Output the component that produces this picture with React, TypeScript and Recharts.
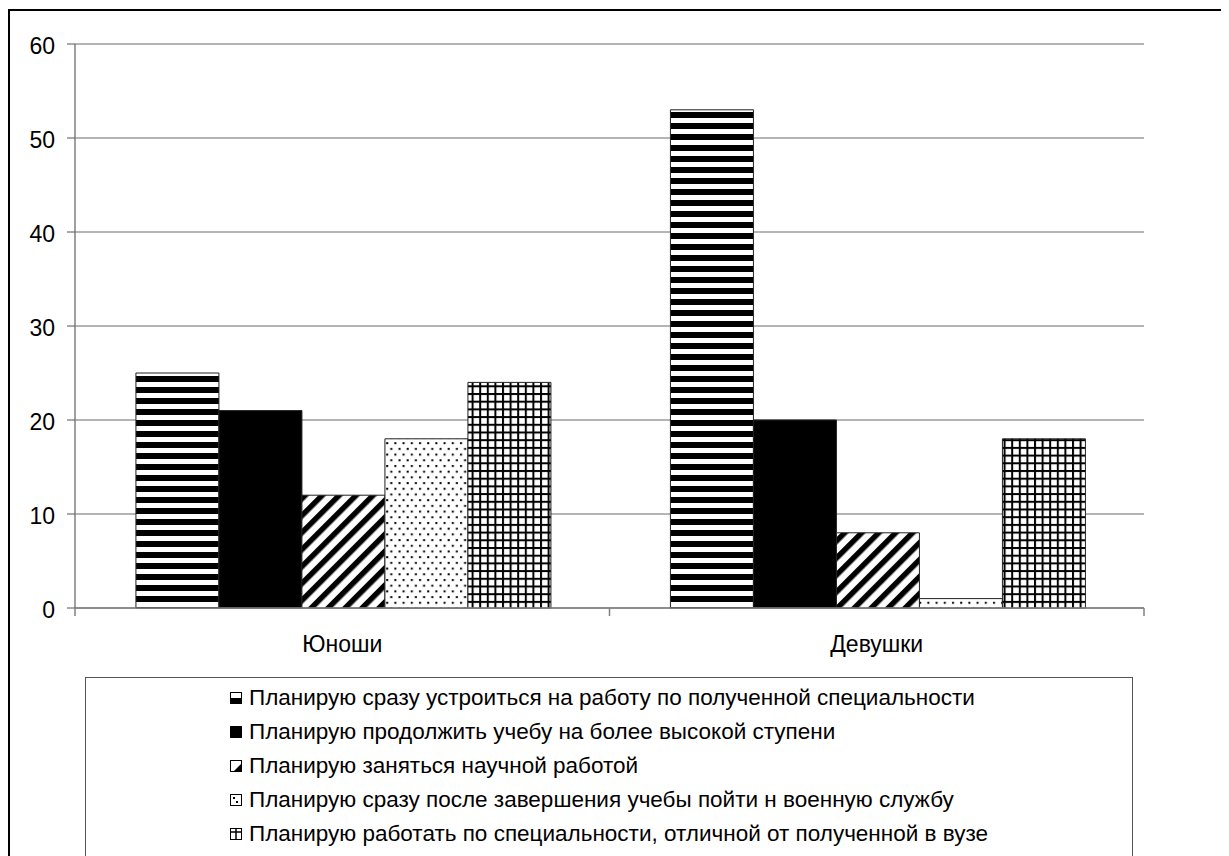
import React from 'react';
import { BarChart, Bar, XAxis, YAxis, CartesianGrid } from 'recharts';

const categories = ['Юноши', 'Девушки'];
const seriesNames = [
  'Планирую сразу устроиться на работу по полученной специальности',
  'Планирую продолжить учебу на более высокой ступени',
  'Планирую заняться научной работой',
  'Планирую сразу после завершения учебы пойти н военную службу',
  'Планирую работать по специальности, отличной от полученной в вузе',
];
const seriesWork = [25, 53];
const seriesStudy = [21, 20];
const seriesScience = [12, 8];
const seriesArmy = [18, 1];
const seriesOther = [24, 18];
const yTicks = [0, 10, 20, 30, 40, 50, 60];

const seriesKeys = ['work', 'study', 'science', 'army', 'other'];
const seriesValues = [seriesWork, seriesStudy, seriesScience, seriesArmy, seriesOther];
const patternIds = ['pHoriz', 'pSolid', 'pDiag', 'pDots', 'pGrid'];

const data = categories.map((name, i) => {
  const row: Record<string, any> = { name };
  seriesKeys.forEach((k, j) => {
    row[k] = seriesValues[j][i];
  });
  return row;
});

const CHART_W = 1221;
const CHART_H = 700;
const MARGIN = { top: 36, right: 85, left: 0, bottom: 40 };
const Y_W = 67;
const BAND = (CHART_W - MARGIN.right - Y_W) / categories.length;
const FONT = '"Liberation Sans", Arial, sans-serif';
const AXIS_GRAY = '#808080';
const GRID_GRAY = '#6a6a6a';

function XTick(props: any) {
  const { x, y, payload, index } = props;
  const half = BAND / 2;
  return (
    <g>
      {index === 0 && (
        <line x1={x - half} x2={x - half} y1={y} y2={y + 8} stroke={AXIS_GRAY} strokeWidth={1.5} />
      )}
      <line x1={x + half} x2={x + half} y1={y} y2={y + 8} stroke={AXIS_GRAY} strokeWidth={1.5} />
      <text x={x} y={y + 28} dy="0.71em" textAnchor="middle" fontSize={23} fill="#000" fontFamily={FONT}>
        {payload.value}
      </text>
    </g>
  );
}

function Patterns() {
  return (
    <svg width={0} height={0} style={{ position: 'absolute' }}>
      <defs>
        <pattern id="pHoriz" patternUnits="userSpaceOnUse" width={11} height={11}>
          <rect width={11} height={11} fill="#fff" />
          <rect y={5} width={11} height={6} fill="#000" />
        </pattern>
        <pattern id="pSolid" patternUnits="userSpaceOnUse" width={10} height={10}>
          <rect width={10} height={10} fill="#000" />
        </pattern>
        <pattern id="pDiag" patternUnits="userSpaceOnUse" width={12} height={12} patternTransform="rotate(-45)">
          <rect width={12} height={12} fill="#fff" />
          <rect width={12} height={5.5} fill="#000" />
        </pattern>
        <pattern id="pDots" patternUnits="userSpaceOnUse" width={8.2} height={11.4}>
          <rect width={8.2} height={11.4} fill="#fff" />
          <rect x={1} y={1} width={2} height={2} fill="#000" />
          <rect x={5.1} y={6.7} width={2} height={2} fill="#000" />
        </pattern>
        <pattern id="pGrid" patternUnits="userSpaceOnUse" width={7.6} height={7.7}>
          <rect width={7.6} height={7.7} fill="#fff" />
          <rect width={2} height={7.7} fill="#000" />
          <rect width={7.6} height={2} fill="#000" />
        </pattern>
      </defs>
    </svg>
  );
}

function LegendIcon({ index }: { index: number }) {
  const s = 12;
  const frame = <rect x={0.5} y={0.5} width={s - 1} height={s - 1} fill="none" stroke="#000" strokeWidth={1} />;
  let inner: React.ReactNode = null;
  if (index === 0) inner = <rect x={0} y={6} width={s} height={6} fill="#000" />;
  if (index === 1) inner = <rect x={0} y={0} width={s} height={s} fill="#000" />;
  if (index === 2) inner = <polygon points={`${s},3 ${s},${s} 3,${s}`} fill="#000" />;
  if (index === 3)
    inner = (
      <g>
        <rect x={3} y={3} width={2} height={2} fill="#000" />
        <rect x={6} y={7} width={2} height={2} fill="#000" />
      </g>
    );
  if (index === 4)
    inner = (
      <g>
        <line x1={0} x2={s} y1={4} y2={4} stroke="#000" strokeWidth={1.5} />
        <line x1={6} x2={6} y1={0} y2={s} stroke="#000" strokeWidth={1.5} />
      </g>
    );
  return (
    <svg width={s} height={s} style={{ flex: 'none' }}>
      <rect width={s} height={s} fill="#fff" />
      {inner}
      {frame}
    </svg>
  );
}

export default function App() {
  return (
    <div
      style={{
        position: 'relative',
        width: 1221,
        height: 848,
        overflow: 'hidden',
        fontFamily: FONT,
        background: '#fff',
      }}
    >
      <Patterns />
      <div
        style={{
          position: 'absolute',
          left: 0,
          top: 1,
          width: 1400,
          height: 1000,
          border: '2px solid #000',
          boxSizing: 'border-box',
        }}
      />
      <div style={{ position: 'absolute', left: 0, top: 0 }}>
        <BarChart
          width={CHART_W}
          height={CHART_H}
          data={data}
          margin={MARGIN}
          barCategoryGap="11.4%"
          barGap={0}
        >
          <CartesianGrid vertical={false} stroke={GRID_GRAY} strokeWidth={1} />
          <XAxis
            dataKey="name"
            tickSize={0}
            tickMargin={0}
            tickLine={false}
            axisLine={{ stroke: AXIS_GRAY, strokeWidth: 1.5 }}
            tick={<XTick />}
            height={60}
            interval={0}
          />
          <YAxis
            domain={[0, 60]}
            ticks={yTicks}
            interval={0}
            width={Y_W}
            tickSize={8}
            tickMargin={12}
            tickLine={{ stroke: '#555' }}
            axisLine={{ stroke: AXIS_GRAY, strokeWidth: 1.5 }}
            tick={{ fontSize: 23, fill: '#000', fontFamily: FONT, dy: 2 }}
          />
          <YAxis
            yAxisId="right"
            orientation="right"
            domain={[0, 60]}
            width={0}
            tick={false}
            tickLine={false}
            axisLine={{ stroke: AXIS_GRAY, strokeWidth: 1.5 }}
          />
          {seriesKeys.map((k, j) => (
            <Bar
              key={k}
              dataKey={k}
              name={seriesNames[j]}
              fill={`url(#${patternIds[j]})`}
              stroke="#222"
              strokeWidth={1}
              isAnimationActive={false}
            />
          ))}
        </BarChart>
      </div>
      <div
        style={{
          position: 'absolute',
          left: 77,
          top: 669,
          width: 1048,
          height: 300,
          border: '1.5px solid #555',
          boxSizing: 'border-box',
          display: 'flex',
          justifyContent: 'center',
          paddingTop: 2.5,
        }}
      >
        <div>
          {seriesNames.map((n, j) => (
            <div
              key={n}
              style={{ display: 'flex', alignItems: 'center', height: 34, gap: 7, fontSize: 22.5, color: '#000', whiteSpace: 'nowrap' }}
            >
              <LegendIcon index={j} />
              <span>{n}</span>
            </div>
          ))}
        </div>
      </div>
    </div>
  );
}
